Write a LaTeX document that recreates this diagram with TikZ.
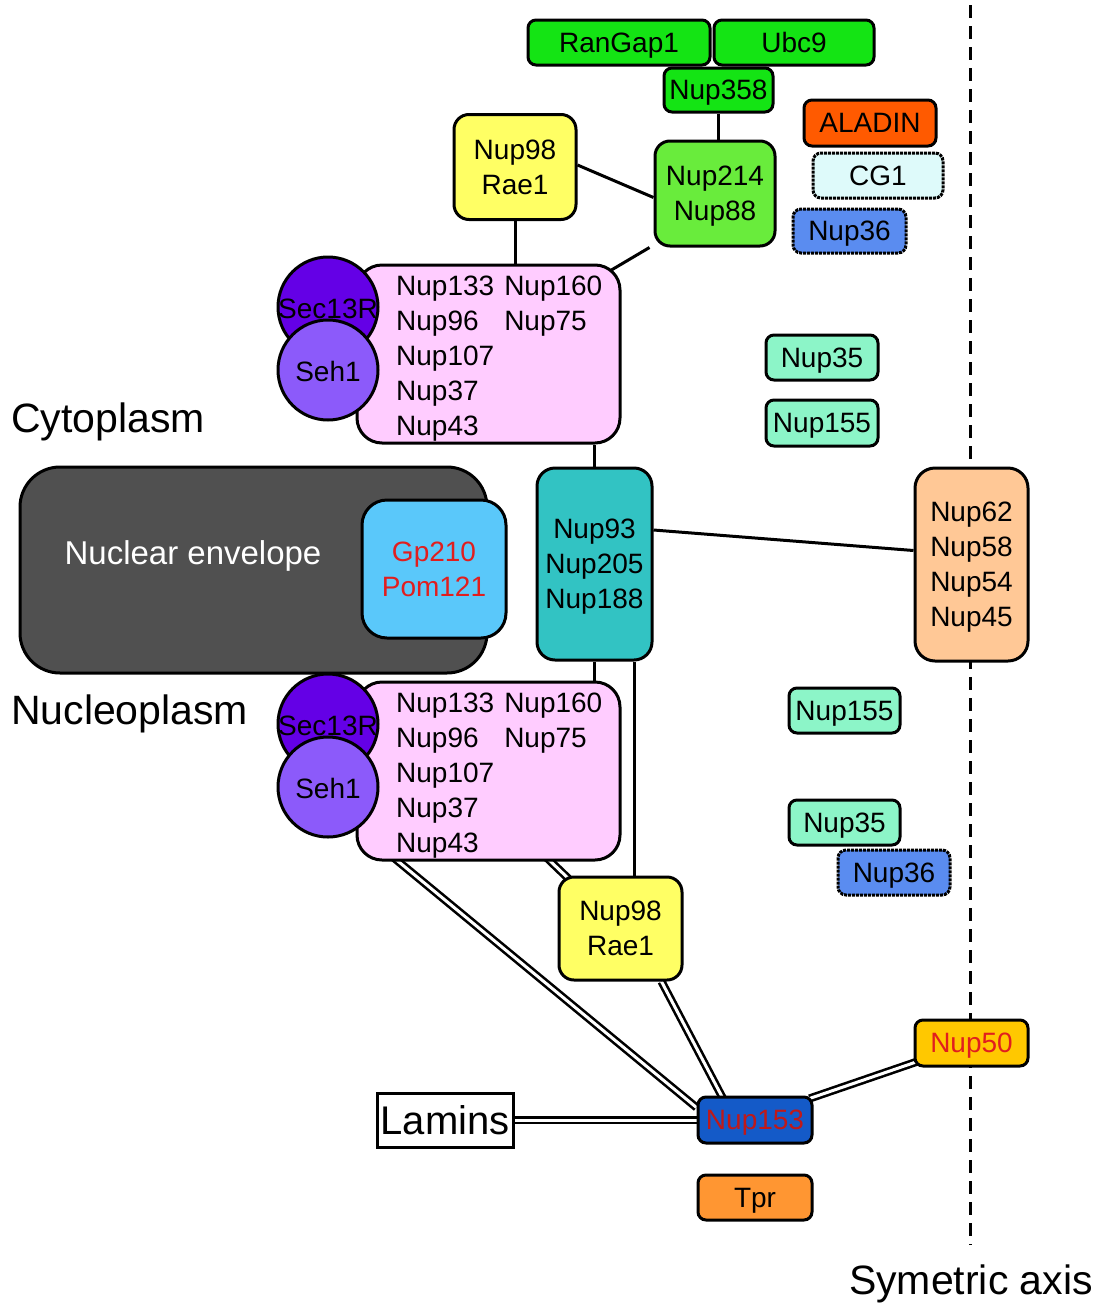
\documentclass[tikz,border=0pt]{standalone}
\usepackage{fontspec}
\setmainfont{Liberation Sans}
\usetikzlibrary{backgrounds,calc}
\definecolor{cgreen}{RGB}{20,228,20}
\definecolor{lgreen}{RGB}{105,236,60}
\definecolor{cyellow}{RGB}{255,255,100}
\definecolor{corange}{RGB}{255,90,0}
\definecolor{ccyan}{RGB}{222,250,250}
\definecolor{cblue}{RGB}{90,140,240}
\definecolor{cpink}{RGB}{255,204,255}
\definecolor{csec}{RGB}{100,0,230}
\definecolor{cseh}{RGB}{140,90,250}
\definecolor{caqua}{RGB}{140,245,200}
\definecolor{cgrey}{RGB}{80,80,80}
\definecolor{cgp}{RGB}{90,200,250}
\definecolor{cteal}{RGB}{50,195,195}
\definecolor{cpeach}{RGB}{255,200,150}
\definecolor{cdblue}{RGB}{20,90,200}
\definecolor{cgold}{RGB}{255,200,0}
\definecolor{ctpr}{RGB}{255,150,50}
\definecolor{cred}{RGB}{225,30,30}
\begin{document}
\begin{tikzpicture}[x=1pt,y=-1pt,
  box/.style={draw=black, line width=3pt, rounded corners=8pt, inner sep=0pt,
    font=\fontsize{28}{35}\selectfont, align=center, text=black, text depth=0pt},
  dotbox/.style={box, densely dotted},
  conn/.style={line width=3pt},
  dbl/.style={double, line width=2.6pt, double distance=3pt},
  ball/.style={circle, draw=black, line width=3pt, minimum size=100pt, inner sep=0pt},
  lbl/.style={font=\fontsize{28}{35}\selectfont, inner sep=0pt, text=black},
  big/.style={font=\fontsize{41}{48}\selectfont, inner sep=0pt},
]
\useasboundingbox (0,0) rectangle (1104,1307);

% top
\node[box, fill=cgreen, minimum width=182pt, minimum height=45pt] (rangap) at (619,42.5) {RanGap1};
\node[box, fill=cgreen, minimum width=160pt, minimum height=45pt] (ubc) at (794,42.5) {Ubc9};
\node[box, fill=cgreen, minimum width=109pt, minimum height=44pt] (n358) at (718.5,90) {Nup358};
\node[box, fill=corange, minimum width=132pt, minimum height=46pt] (aladin) at (870,123) {ALADIN};
\node[dotbox, fill=ccyan, minimum width=130pt, minimum height=45pt] (cg1) at (878,175.5) {CG1};
\node[dotbox, fill=cblue, minimum width=113pt, minimum height=44pt] (n36t) at (849.5,231) {Nup36};
\node[box, fill=cyellow, rounded corners=15pt, minimum width=122pt, minimum height=105pt] (n98t) at (515,167) {Nup98\\Rae1};
\node[box, fill=lgreen, rounded corners=15pt, minimum width=120pt, minimum height=105pt] (n214) at (715,193.5) {Nup214\\Nup88};

% cytoplasmic Y complex
\node[box, fill=cpink, rounded corners=25pt, minimum width=263pt, minimum height=178pt] (pinkt) at (488.5,354) {};
\node[ball, fill=csec] (sect) at (328,307) {};
\node[ball, fill=cseh] (seht) at (328,370) {};
\node[lbl] (sectT) at (328,309) {Sec13R};
\node[lbl] (sehtT) at (328,371) {Seh1};
\node[lbl, anchor=west] (pinktT) at (396,358.5) {\begin{tabular}{@{}l@{\hspace{10pt}}l@{}}Nup133&Nup160\\Nup96&Nup75\\Nup107\\Nup37\\Nup43\end{tabular}};

\node[box, fill=caqua, minimum width=112pt, minimum height=45pt] (n35t) at (822,357.5) {Nup35};
\node[box, fill=caqua, minimum width=112pt, minimum height=46pt] (n155t) at (822,423) {Nup155};

\node[big, anchor=west] (cyto) at (11,422) {Cytoplasm};

% membrane level
\node[box, fill=cgrey, rounded corners=40pt, minimum width=467pt, minimum height=206pt] (ne) at (253.5,570) {};
\node[big, font=\fontsize{33}{40}\selectfont, text=white] (neT) at (193,556) {Nuclear envelope};
\node[box, fill=cgp, text=cred, rounded corners=25pt, minimum width=144pt, minimum height=138pt] (gp) at (434,569) {Gp210\\Pom121};
\node[box, fill=cteal, rounded corners=18pt, minimum width=115pt, minimum height=192pt] (n93) at (594.5,564) {Nup93\\Nup205\\Nup188};
\node[box, fill=cpeach, rounded corners=20pt, minimum width=113pt, minimum height=193pt] (n62) at (971.5,564.5) {Nup62\\Nup58\\Nup54\\Nup45};

% nucleoplasmic Y complex
\node[box, fill=cpink, rounded corners=25pt, minimum width=263pt, minimum height=178pt] (pinkb) at (488.5,771) {};
\node[ball, fill=csec] (secb) at (328,724) {};
\node[ball, fill=cseh] (sehb) at (328,787) {};
\node[lbl] (secbT) at (328,726) {Sec13R};
\node[lbl] (sehbT) at (328,788) {Seh1};
\node[lbl, anchor=west] (pinkbT) at (396,775.5) {\begin{tabular}{@{}l@{\hspace{10pt}}l@{}}Nup133&Nup160\\Nup96&Nup75\\Nup107\\Nup37\\Nup43\end{tabular}};

\node[big, anchor=west] (nucleo) at (11,714) {Nucleoplasm};

\node[box, fill=caqua, minimum width=111pt, minimum height=45pt] (n155b) at (844.5,710.5) {Nup155};
\node[box, fill=caqua, minimum width=111pt, minimum height=45pt] (n35b) at (844.5,822.5) {Nup35};
\node[dotbox, fill=cblue, minimum width=112pt, minimum height=45pt] (n36b) at (894,872.5) {Nup36};
\node[box, fill=cyellow, rounded corners=15pt, minimum width=123pt, minimum height=103pt] (n98b) at (620.5,928.5) {Nup98\\Rae1};

% basket
\node[box, fill=cdblue, text=cred!85!black, minimum width=114pt, minimum height=46pt] (n153) at (755,1120) {Nup153};
\node[box, fill=cgold, text=cred, minimum width=113pt, minimum height=46pt] (n50) at (971.5,1043) {Nup50};
\node[box, fill=ctpr, minimum width=114pt, minimum height=45pt] (tpr) at (755,1197.5) {Tpr};
\node[draw=black, line width=3pt, fill=white, inner sep=0pt, minimum width=136pt, minimum height=54pt, font=\fontsize{40}{48}\selectfont, text depth=0pt] (lamins) at (445,1120) {Lamins};

\node[big] (axisT) at (971,1284) {Symetric axis};

\coordinate (axtop) at (970,5);
\coordinate (axbot) at (970,1245);

\begin{scope}[on background layer]
  \draw[line width=3pt, dash pattern=on 13pt off 8pt] (axtop) -- (axbot);
  \draw[conn] (n358.south) -- (n358.south |- n214.north);
  \draw[conn] ([yshift=2pt]n98t.east) -- ([yshift=-4pt]n214.west);
  \draw[conn] ([xshift=-4pt]n214.south west) -- ([xshift=-16pt,yshift=-10pt]pinkt.north east);
  \draw[conn] (n98t.south) -- (n98t.south |- pinkt.north);
  \draw[conn] (n93.north) -- (n93.north |- pinkt.south);
  \draw[conn] (n93.south) -- (n93.south |- pinkb.north);
  \draw[conn] ([xshift=40pt]n93.south) -- ([xshift=40pt]n93.south |- n98b.north);
  \draw[conn] ([yshift=34pt]n93.east) -- ([yshift=14pt]n62.west);
  \draw[dbl] ([xshift=38pt,yshift=4pt]pinkb.south west) -- ([yshift=-12pt]n153.north west);
  \draw[dbl] ([xshift=-75pt,yshift=4pt]pinkb.south east) -- ([xshift=14pt,yshift=-6pt]n98b.north west);
  \draw[dbl] ([xshift=-22pt]n98b.south east) -- ([xshift=27pt,yshift=-4pt]n153.north west);
  \draw[dbl] ([xshift=-4pt,yshift=-3pt]n153.north east) -- ([xshift=4pt,yshift=6pt]n50.south west);
  \draw[dbl] (lamins.east) -- (n153.west);
\end{scope}
\end{tikzpicture}
\end{document}
